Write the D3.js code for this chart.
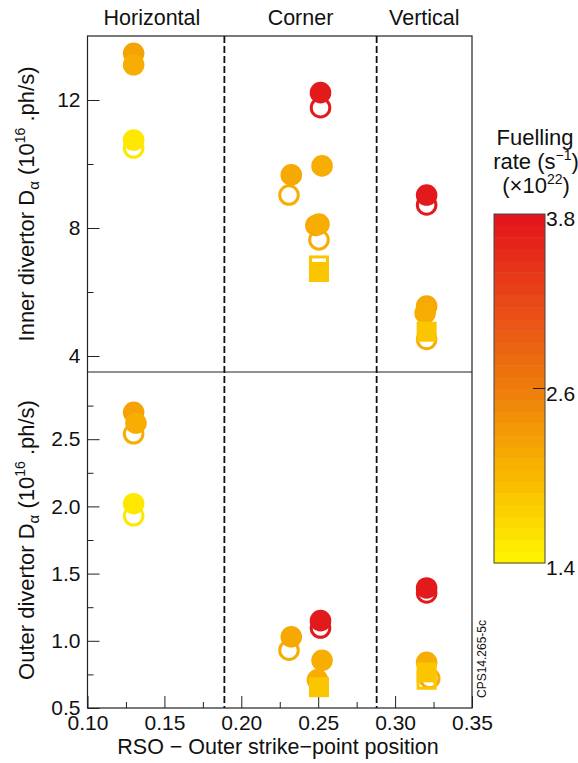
<!DOCTYPE html>
<html>
<head>
<meta charset="utf-8">
<script src="https://cdn.jsdelivr.net/npm/d3@7"></script>
<style>
body { margin: 0; background: #fff; }
svg text { font-family: "Liberation Sans", Arial, sans-serif; fill: #111; }
</style>
</head>
<body>
<div id="vis"></div>
<script>
// data
var regions = ['Horizontal', 'Corner', 'Vertical'];
var boundaries = [0.189, 0.288];
var xTicks = [0.10, 0.15, 0.20, 0.25, 0.30, 0.35];
var xMinor = [0.125, 0.175, 0.225, 0.275, 0.325];
var innerTicks = [4, 8, 12];
var innerMinor = [6, 10];
var outerTicks = [0.5, 1.0, 1.5, 2.0, 2.5];
var outerMinor = [0.75, 1.25, 1.75, 2.25, 2.75];
var rateTicks = [1.4, 2.6, 3.8];
var rateStops = [1.4, 2.0, 2.6, 3.2, 3.8];
var rateColours = ['#fff200', '#f9b600', '#ee7d0c', '#e84a18', '#e3161b'];

// marks: c = filled circle, o = open circle, S = filled square, s = open square
var innerPos  = [0.130, 0.130, 0.130, 0.130, 0.2515, 0.2515, 0.2525, 0.2325, 0.231, 0.2485, 0.2505, 0.2505, 0.2505, 0.2505, 0.3205, 0.3205, 0.3205, 0.3195, 0.3205, 0.3205];
var innerVal  = [13.46, 13.10, 10.75, 10.50, 12.23, 11.76, 9.94, 9.66, 9.03, 8.08, 8.12, 7.63, 6.83, 6.625, 9.03, 8.72, 5.56, 5.34, 4.76, 4.52];
var innerRate = [2.2, 2.1, 1.5, 1.5, 3.75, 3.75, 2.1, 2.15, 2.1, 2.15, 2.1, 2.1, 1.85, 1.85, 3.75, 3.75, 2.15, 2.1, 1.85, 2.1];
var innerMark = ['c', 'c', 'c', 'o', 'c', 'o', 'c', 'c', 'o', 'c', 'c', 'o', 's', 'S', 'c', 'o', 'c', 'c', 'S', 'o'];

var outerPos  = [0.130, 0.1315, 0.130, 0.130, 0.130, 0.2515, 0.2515, 0.2325, 0.231, 0.2525, 0.2495, 0.2505, 0.3205, 0.3205, 0.3205, 0.3225, 0.3205, 0.3205];
var outerVal  = [2.70, 2.62, 2.54, 2.02, 1.93, 1.15, 1.095, 1.03, 0.93, 0.855, 0.71, 0.655, 1.393, 1.356, 0.84, 0.72, 0.71, 0.765];
var outerRate = [2.2, 2.1, 2.1, 1.5, 1.5, 3.75, 3.75, 2.15, 2.1, 2.1, 2.1, 1.85, 3.75, 3.75, 2.1, 2.1, 1.85, 1.85];
var outerMark = ['c', 'c', 'o', 'c', 'o', 'c', 'o', 'c', 'o', 'c', 'c', 'S', 'c', 'o', 'c', 'o', 's', 'S'];

var width = 578, height = 763;
var svg = d3.select('#vis')
    .append('svg')
    .attr('width', width)
    .attr('height', height);

var plotLeft = 87.5, plotRight = 472, plotTop = 36, plotMid = 372, plotBottom = 708;

var x_scale = d3.scaleLinear().domain([0.10, 0.35]).range([plotLeft, plotRight]);
var y_inner = d3.scaleLinear().domain([3.5, 14]).range([plotMid, plotTop]);
var y_outer = d3.scaleLinear().domain([0.5, 3.0]).range([plotBottom, plotMid]);
var colour_scale = d3.scaleLinear().domain(rateStops).range(rateColours);

// axes, ticks pointing inward
function styleAxis(g) {
    g.select('.domain').remove();
    g.selectAll('line').attr('stroke', '#222');
    g.selectAll('text').style('font-size', '21px').attr('fill', '#111');
}

svg.append('g')
    .attr('transform', 'translate(0,' + plotBottom + ')')
    .call(d3.axisBottom(x_scale).tickValues(xTicks).tickSize(-12).tickPadding(7).tickFormat(d3.format('.2f')))
    .call(styleAxis);
svg.append('g')
    .attr('transform', 'translate(0,' + plotBottom + ')')
    .call(d3.axisBottom(x_scale).tickValues(xMinor).tickSize(-6).tickFormat(''))
    .call(styleAxis);

svg.append('g')
    .attr('transform', 'translate(' + plotLeft + ',0)')
    .call(d3.axisLeft(y_inner).tickValues(innerTicks).tickSize(-12).tickPadding(7).tickFormat(d3.format('d')))
    .call(styleAxis);
svg.append('g')
    .attr('transform', 'translate(' + plotLeft + ',0)')
    .call(d3.axisLeft(y_inner).tickValues(innerMinor).tickSize(-6).tickFormat(''))
    .call(styleAxis);

svg.append('g')
    .attr('transform', 'translate(' + plotLeft + ',0)')
    .call(d3.axisLeft(y_outer).tickValues(outerTicks).tickSize(-12).tickPadding(7).tickFormat(d3.format('.1f')))
    .call(styleAxis);
svg.append('g')
    .attr('transform', 'translate(' + plotLeft + ',0)')
    .call(d3.axisLeft(y_outer).tickValues(outerMinor).tickSize(-6).tickFormat(''))
    .call(styleAxis);

// frame and panel divider
svg.append('rect')
    .attr('x', plotLeft).attr('y', plotTop)
    .attr('width', plotRight - plotLeft).attr('height', plotBottom - plotTop)
    .attr('fill', 'none').attr('stroke', '#222').attr('stroke-width', 1.2);
svg.append('line')
    .attr('x1', plotLeft).attr('x2', plotRight)
    .attr('y1', plotMid).attr('y2', plotMid)
    .attr('stroke', '#222').attr('stroke-width', 1.2);

// region boundaries
svg.selectAll('.bound')
    .data(boundaries)
    .enter()
    .append('line')
    .attr('class', 'bound')
    .attr('x1', function(d) { return x_scale(d); })
    .attr('x2', function(d) { return x_scale(d); })
    .attr('y1', plotTop).attr('y2', plotBottom)
    .attr('stroke', '#111')
    .attr('stroke-width', 1.8)
    .attr('stroke-dasharray', '7,3');

// region headers
var edges = [0.10].concat(boundaries).concat([0.35]);
svg.selectAll('.region')
    .data(regions)
    .enter()
    .append('text')
    .attr('class', 'region')
    .attr('x', function(d, i) { return (x_scale(edges[i]) + x_scale(edges[i + 1])) / 2 - (i === 0 ? 4 : 0); })
    .attr('y', 25)
    .attr('text-anchor', 'middle')
    .style('font-size', '21.5px')
    .text(function(d) { return d; });

// markers
var order = { o: 0, c: 1, s: 2, S: 3 };
function drawPoints(pos, val, rate, mark, y_scale) {
    var pts = pos.map(function(p, i) {
        return { x: p, y: val[i], r: rate[i], m: mark[i], i: i };
    });
    pts.sort(function(a, b) { return order[a.m] - order[b.m] || a.i - b.i; });
    var g = svg.append('g');
    pts.forEach(function(d) {
        var cx = x_scale(d.x), cy = y_scale(d.y), col = colour_scale(d.r);
        if (d.m === 'c') {
            g.append('circle').attr('cx', cx).attr('cy', cy).attr('r', 10.8).attr('fill', col);
        } else if (d.m === 'o') {
            g.append('circle').attr('cx', cx).attr('cy', cy).attr('r', 9.3)
                .attr('fill', 'none').attr('stroke', col).attr('stroke-width', 3);
        } else if (d.m === 'S') {
            g.append('rect').attr('x', cx - 10).attr('y', cy - 10)
                .attr('width', 20).attr('height', 20).attr('fill', col);
        } else {
            g.append('rect').attr('x', cx - 8.5).attr('y', cy - 8.5)
                .attr('width', 17).attr('height', 17)
                .attr('fill', 'none').attr('stroke', col).attr('stroke-width', 3);
        }
    });
}
drawPoints(innerPos, innerVal, innerRate, innerMark, y_inner);
drawPoints(outerPos, outerVal, outerRate, outerMark, y_outer);

// axis titles
svg.append('text')
    .attr('x', 278).attr('y', 754)
    .attr('text-anchor', 'middle')
    .style('font-size', '21.5px')
    .text('RSO \u2212 Outer strike\u2212point position');

function yTitle(name, cy) {
    var t = svg.append('text')
        .attr('transform', 'translate(34,' + cy + ') rotate(-90)')
        .attr('text-anchor', 'middle')
        .style('font-size', '22px');
    t.append('tspan').text(name + ' divertor D');
    t.append('tspan').attr('dy', 5).style('font-size', '15px').text('\u03b1');
    t.append('tspan').attr('dy', -5).text(' (10');
    t.append('tspan').attr('dy', -9).style('font-size', '14px').text('16');
    t.append('tspan').attr('dy', 9).text(' .ph/s)');
}
yTitle('Inner', (plotTop + plotMid) / 2);
yTitle('Outer', (plotMid + plotBottom) / 2);

svg.append('text')
    .attr('transform', 'translate(486,659) rotate(-90)')
    .attr('text-anchor', 'middle')
    .style('font-size', '12px')
    .text('CPS14.265-5c');

// colour bar
var cbX = 494, cbW = 51;
var cb_scale = d3.scaleLinear().domain([1.4, 3.8]).range([563, 214]);
var nBands = 30;
var bands = d3.range(nBands);
var step = (3.8 - 1.4) / nBands;
svg.selectAll('.band')
    .data(bands)
    .enter()
    .append('rect')
    .attr('class', 'band')
    .attr('x', cbX)
    .attr('y', function(d) { return cb_scale(1.4 + (d + 1) * step); })
    .attr('width', cbW)
    .attr('height', function(d) { return cb_scale(1.4 + d * step) - cb_scale(1.4 + (d + 1) * step) + 0.5; })
    .attr('fill', function(d) { return colour_scale(1.4 + d * (3.8 - 1.4) / (nBands - 1)); });
svg.append('rect')
    .attr('x', cbX).attr('y', cb_scale(3.8))
    .attr('width', cbW).attr('height', cb_scale(1.4) - cb_scale(3.8))
    .attr('fill', 'none').attr('stroke', '#444').attr('stroke-width', 1);

svg.selectAll('.cbtick')
    .data(rateTicks.filter(function(d) { return d > 1.4 && d < 3.8; }))
    .enter()
    .append('line')
    .attr('x1', cbX + cbW - 12).attr('x2', cbX + cbW)
    .attr('y1', function(d) { return cb_scale(d); })
    .attr('y2', function(d) { return cb_scale(d); })
    .attr('stroke', '#222');
svg.selectAll('.cblabel')
    .data(rateTicks)
    .enter()
    .append('text')
    .attr('x', cbX + cbW + 1)
    .attr('y', function(d) { return cb_scale(d) + 12; })
    .style('font-size', '21px')
    .text(function(d) { return d.toFixed(1); });

var cbTitle = svg.append('g').attr('text-anchor', 'middle');
cbTitle.append('text').attr('x', 535).attr('y', 145).style('font-size', '22px').text('Fuelling');
var l2 = cbTitle.append('text').attr('x', 536).attr('y', 169).style('font-size', '22px');
l2.append('tspan').text('rate (s');
l2.append('tspan').attr('dy', -9).style('font-size', '14px').text('\u22121');
l2.append('tspan').attr('dy', 9).text(')');
var l3 = cbTitle.append('text').attr('x', 536).attr('y', 193).style('font-size', '22px');
l3.append('tspan').text('(\u00d710');
l3.append('tspan').attr('dy', -9).style('font-size', '14px').text('22');
l3.append('tspan').attr('dy', 9).text(')');
</script>
</body>
</html>
